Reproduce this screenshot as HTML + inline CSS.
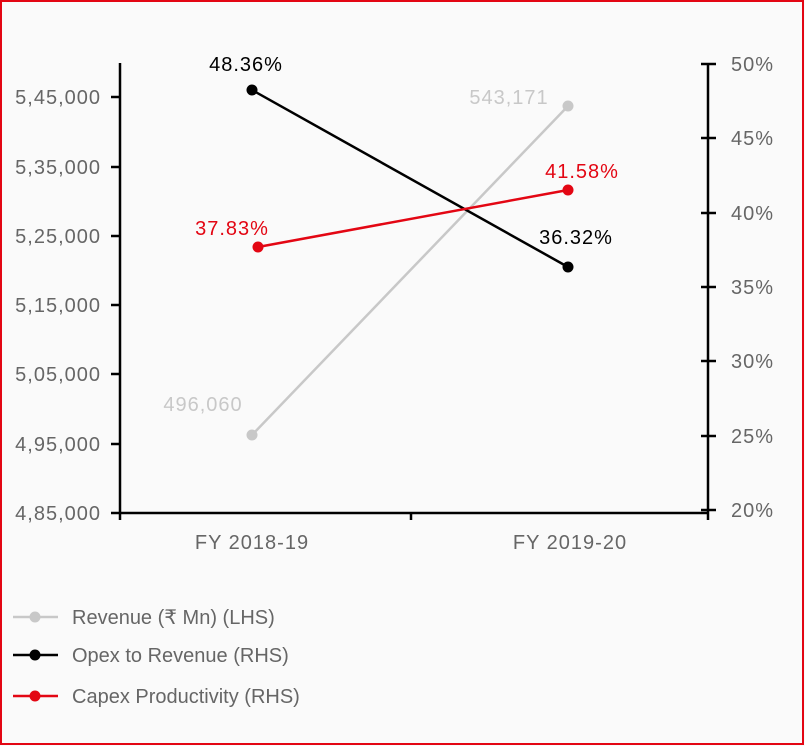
<!DOCTYPE html>
<html><head><meta charset="utf-8"><style>
html,body{margin:0;padding:0;background:#fafafa;}
svg{display:block;}
text{font-family:"Liberation Sans",sans-serif;letter-spacing:1px;}
text.lg{letter-spacing:0px;}
</style></head><body>
<svg width="805" height="746" viewBox="0 0 805 746" xmlns="http://www.w3.org/2000/svg">
<rect x="1" y="1" width="802" height="743" fill="#fafafa" stroke="#e30613" stroke-width="2"/>
<g stroke="#000" stroke-width="2.5" fill="none">
<line x1="120" y1="63" x2="120" y2="520"/>
<line x1="120" y1="513" x2="708" y2="513"/>
<line x1="708" y1="64" x2="708" y2="520"/>
<line x1="411" y1="513" x2="411" y2="520"/>
<line x1="111" y1="97" x2="120" y2="97"/>
<line x1="111" y1="167" x2="120" y2="167"/>
<line x1="111" y1="236" x2="120" y2="236"/>
<line x1="111" y1="305" x2="120" y2="305"/>
<line x1="111" y1="374" x2="120" y2="374"/>
<line x1="111" y1="444" x2="120" y2="444"/>
<line x1="111" y1="513" x2="120" y2="513"/>
<line x1="701" y1="64" x2="716" y2="64"/>
<line x1="701" y1="138" x2="716" y2="138"/>
<line x1="701" y1="213" x2="716" y2="213"/>
<line x1="701" y1="287" x2="716" y2="287"/>
<line x1="701" y1="361" x2="716" y2="361"/>
<line x1="701" y1="436" x2="716" y2="436"/>
<line x1="701" y1="510" x2="716" y2="510"/>
</g>
<g font-size="20" fill="#666" text-anchor="end">
<text x="101" y="104">5,45,000</text>
<text x="101" y="174">5,35,000</text>
<text x="101" y="243">5,25,000</text>
<text x="101" y="312">5,15,000</text>
<text x="101" y="381">5,05,000</text>
<text x="101" y="451">4,95,000</text>
<text x="101" y="520">4,85,000</text>
</g>
<g font-size="20" fill="#666">
<text x="731" y="71">50%</text>
<text x="731" y="145">45%</text>
<text x="731" y="220">40%</text>
<text x="731" y="294">35%</text>
<text x="731" y="368">30%</text>
<text x="731" y="443">25%</text>
<text x="731" y="517">20%</text>
</g>
<g font-size="20" fill="#666" text-anchor="middle">
<text x="252" y="549">FY 2018-19</text>
<text x="570" y="549">FY 2019-20</text>
</g>
<line x1="252" y1="435" x2="568" y2="106" stroke="#c8c8c8" stroke-width="2.5"/>
<circle cx="252" cy="435" r="5.5" fill="#c8c8c8"/><circle cx="568" cy="106" r="5.5" fill="#c8c8c8"/>
<line x1="252" y1="90" x2="568" y2="267" stroke="#000" stroke-width="2.5"/>
<circle cx="252" cy="90" r="5.5" fill="#000"/><circle cx="568" cy="267" r="5.5" fill="#000"/>
<line x1="258" y1="247" x2="568" y2="190" stroke="#e30613" stroke-width="2.5"/>
<circle cx="258" cy="247" r="5.5" fill="#e30613"/><circle cx="568" cy="190" r="5.5" fill="#e30613"/>
<g font-size="20">
<text x="246" y="71" text-anchor="middle" fill="#000">48.36%</text>
<text x="509" y="104" text-anchor="middle" fill="#c8c8c8">543,171</text>
<text x="582" y="178" text-anchor="middle" fill="#e30613">41.58%</text>
<text x="232" y="235" text-anchor="middle" fill="#e30613">37.83%</text>
<text x="576" y="244" text-anchor="middle" fill="#000">36.32%</text>
<text x="203" y="411" text-anchor="middle" fill="#c8c8c8">496,060</text>
</g>
<line x1="13" y1="617" x2="58" y2="617" stroke="#c8c8c8" stroke-width="2.5"/><circle cx="35" cy="617" r="5.5" fill="#c8c8c8"/>
<line x1="13" y1="655" x2="58" y2="655" stroke="#000" stroke-width="2.5"/><circle cx="35" cy="655" r="5.5" fill="#000"/>
<line x1="13" y1="696" x2="58" y2="696" stroke="#e30613" stroke-width="2.5"/><circle cx="35" cy="696" r="5.5" fill="#e30613"/>
<g font-size="20" fill="#666">
<text class="lg" x="72" y="624">Revenue (₹ Mn) (LHS)</text>
<text class="lg" x="72" y="662">Opex to Revenue (RHS)</text>
<text class="lg" x="72" y="703">Capex Productivity (RHS)</text>
</g>
</svg>
</body></html>
